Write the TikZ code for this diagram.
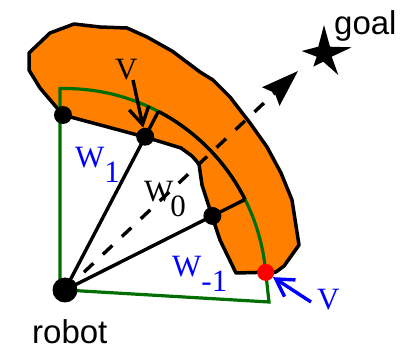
\documentclass[tikz,border=0pt]{standalone}
\usepackage{fontspec}
\setmainfont{Liberation Serif}
\newfontfamily\sansf{Liberation Sans}
\usetikzlibrary{arrows.meta}
\definecolor{blobor}{RGB}{255,128,0}
\definecolor{wingreen}{RGB}{0,110,0}
\newcommand\lowr[1]{\raisebox{-15pt}{#1}}
\begin{document}
\begin{tikzpicture}[x=1pt,y=-1pt,
  dot/.style={circle,fill=black,inner sep=0pt,minimum size=18pt},
  bigdot/.style={dot,minimum size=25pt},
  reddot/.style={dot,fill=red,minimum size=17pt},
  edge/.style={line width=3.4pt},
  blob/.style={fill=blobor,draw=black,line width=3.5pt,line join=round},
  win/.style={draw=wingreen,line width=3.2pt},
  lab/.style={font=\fontsize{31}{31}\selectfont,inner sep=0pt,anchor=base west},
  slab/.style={font=\sansf\fontsize{33}{33}\selectfont,inner sep=0pt,anchor=base west},
  guide/.style={line width=3.4pt,dash pattern=on 13pt off 13pt},
]
\useasboundingbox (0,0) rectangle (408,350);
% obstacle
\path[blob] (63,115) -- (40,88) -- (29,70) -- (29,53) -- (50,33) -- (74,24) -- (100,27) -- (127,28)
  -- (147,37) -- (172,51) -- (200,72) -- (213,80) -- (230,97) -- (250,123) -- (267,147)
  -- (281,173) -- (292,200) -- (299,245) -- (284,266) -- (276,272) -- (236,273) -- (220,240)
  -- (212,216) -- (202,185) -- (199,164) -- (192,156) -- (181,148) -- (145,137) -- cycle;
% coordinates
\coordinate (rc) at (65,290);
\coordinate (a2) at (158.4,111.4);
\coordinate (a3) at (245.0,199.5);
\coordinate (gl) at (60,290);
\coordinate (gt) at (60,88.6);
\coordinate (gbr) at (269,302);
\coordinate (tip) at (298,71);
\coordinate (vs) at (133,80);
\coordinate (bvs) at (311,302);
% sensor window (green)
\draw[win] (gl) -- (gt) arc[start angle=-91.42,end angle=-5,radius=201.5] -- (gbr) -- (rc);
% W0 arc
\draw[edge] (a2) arc[start angle=-62.4,end angle=-26.7,radius=201.5];
% dots
\node[dot] (d1) at (63,115) {};
\node[dot] (d2) at (145.2,136.7) {};
\node[dot] (d3) at (212.4,215.9) {};
\node[reddot] (rd) at (265.7,272.4) {};
% rays
\draw[edge] (rc) -- (d2.center) -- (a2);
\draw[edge] (rc) -- (d3.center) -- (a3);
% guide line to goal
\draw[guide,-{Stealth[length=37pt,width=25pt,inset=5pt]}] (rc) -- (tip);
\node[bigdot] (robot) at (rc) {};
% goal star
\fill (324,25) -- (330,46.7) -- (351.7,47.3) -- (331.7,56.7) -- (338.3,75) -- (323.3,61.7)
  -- (313.3,66.7) -- (316.7,56.7) -- (301.7,51) -- (318.3,46.7) -- cycle;
% labels
\node[slab] (goal) at (334,35) {goal};
\node[slab] (rob) at (32,344) {robot};
\node[lab] (vlab) at (115,80) {V};
\node[lab,blue] (w1) at (75,168) {W\lowr{1}};
\node[lab] (w0) at (144,202) {W\kern-3pt\lowr{0}};
\node[lab,blue] (wm1) at (172,277) {W\lowr{-1}};
\node[lab,blue] (vb) at (317,310) {V};
% arrows
\draw[edge,-{Straight Barb[length=17pt,width=20pt]}] (vs) -- (d2);
\draw[edge,blue,-{Straight Barb[length=17pt,width=20pt]}] (bvs) -- (rd);
\end{tikzpicture}
\end{document}
